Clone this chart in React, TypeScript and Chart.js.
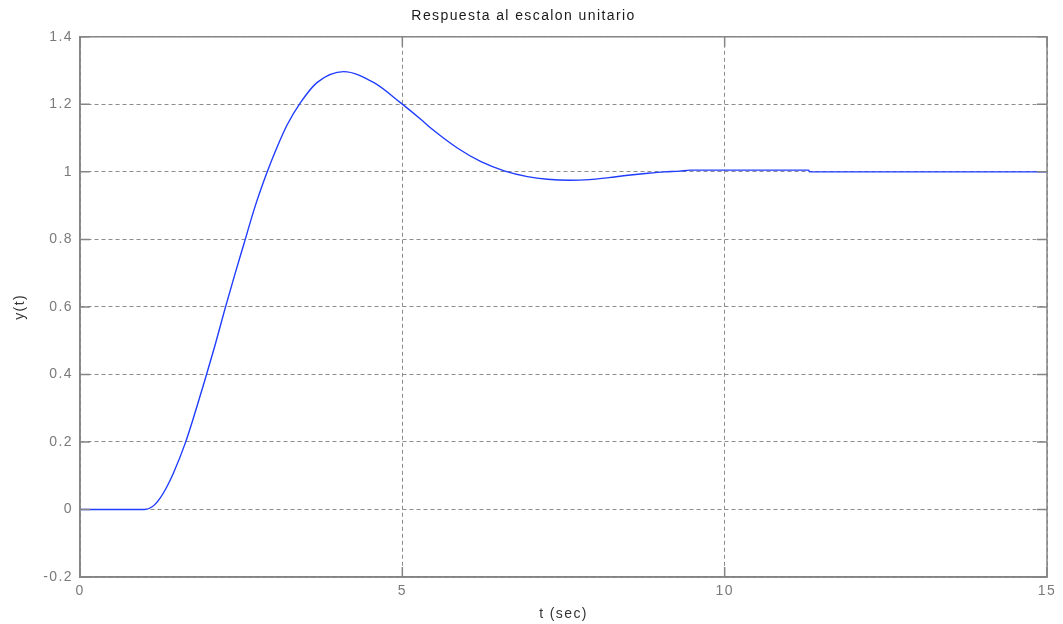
import React, { useEffect, useRef } from "react";
import { Chart, registerables } from "chart.js";

Chart.register(...registerables);

// Step response y(t)
const timeValues = [
  0, 1.0, 1.12, 1.24, 1.35, 1.45, 1.63, 1.79, 1.94, 2.1, 2.25, 2.4, 2.54, 2.72, 2.9,
  3.05, 3.21, 3.42, 3.68, 4.09, 4.56, 4.97, 5.29, 5.44, 5.86, 6.22, 6.58,
  6.94, 7.25, 7.6, 7.9, 8.2, 8.5, 8.81, 9.07, 9.3, 9.46, 11.3, 11.32, 15,
];
const responseValues = [
  0, 0, 0.008, 0.033, 0.068, 0.108, 0.195, 0.29, 0.385, 0.49, 0.595, 0.695, 0.785, 0.9, 0.998,
  1.07, 1.138, 1.205, 1.265, 1.297, 1.264, 1.205, 1.155, 1.13, 1.07, 1.03, 1.003,
  0.986, 0.978, 0.975, 0.977, 0.983, 0.99, 0.996, 1.0, 1.002, 1.005, 1.005, 1.0, 1.0,
];

const xTickValues = [0, 5, 10, 15];
const xTickLabels = ["0", "5", "10", "15"];
const yTickValues = [-0.2, 0, 0.2, 0.4, 0.6, 0.8, 1, 1.2, 1.4];
const yTickLabels = ["-0.2", "0", "0.2", "0.4", "0.6", "0.8", "1", "1.2", "1.4"];

const chartTitle = "Respuesta al escalon unitario";
const xAxisTitle = "t (sec)";
const yAxisTitle = "y(t)";

const FONT = "'Liberation Sans', Arial, sans-serif";
const GRID_GRAY = "#8c8c8c";
const FRAME_GRAY = "#858585";

const matlabAxesPlugin = {
  id: "matlabAxes",
  beforeDraw(chart: any) {
    (chart.ctx as any).letterSpacing = "1.4px";
  },
  afterDraw(chart: any) {
    const { ctx, chartArea, scales } = chart;
    const { left, right, top, bottom } = chartArea;
    ctx.save();
    ctx.strokeStyle = FRAME_GRAY;
    ctx.lineWidth = 1.5;
    ctx.setLineDash([]);
    ctx.strokeRect(left, top, right - left, bottom - top);
    const tl = 10;
    ctx.beginPath();
    xTickValues.forEach((v) => {
      const x = scales.x.getPixelForValue(v);
      ctx.moveTo(x, bottom);
      ctx.lineTo(x, bottom - tl);
      ctx.moveTo(x, top);
      ctx.lineTo(x, top + tl);
    });
    yTickValues.forEach((v) => {
      const y = scales.y.getPixelForValue(v);
      ctx.moveTo(left, y);
      ctx.lineTo(left + tl, y);
      ctx.moveTo(right, y);
      ctx.lineTo(right - tl, y);
    });
    ctx.stroke();
    ctx.restore();
  },
};

export default function App() {
  const canvasRef = useRef<HTMLCanvasElement | null>(null);

  useEffect(() => {
    document.body.style.margin = "0";
    const canvas = canvasRef.current;
    if (!canvas) return;
    const points = timeValues.map((t, i) => ({ x: t, y: responseValues[i] }));
    const chart = new Chart(canvas, {
      type: "line",
      data: {
        datasets: [
          {
            data: points,
            borderColor: "#1f3cff",
            borderWidth: 1.4,
            pointRadius: 0,
            fill: false,
            cubicInterpolationMode: "monotone",
          },
        ],
      },
      options: {
        responsive: false,
        animation: false,
        devicePixelRatio: 1,
        layout: { padding: { top: 0, right: 16, bottom: 0, left: 0 } },
        plugins: {
          legend: { display: false },
          tooltip: { enabled: false },
          title: {
            display: true,
            text: chartTitle,
            color: "#1a1a1a",
            font: { family: FONT, size: 14, weight: "normal" },
            padding: { top: 8, bottom: 12 },
          },
        },
        scales: {
          x: {
            type: "linear",
            min: 0,
            max: 15,
            afterBuildTicks: (scale: any) => {
              scale.ticks = xTickValues.map((v) => ({ value: v }));
            },
            afterFit: (scale: any) => {
              scale.height = 47;
            },
            ticks: {
              color: "#7a7a7a",
              font: { family: FONT, size: 14 },
              padding: 6,
              maxRotation: 0,
              autoSkip: false,
              callback: (v: any) => {
                const i = xTickValues.indexOf(Number(v));
                return i >= 0 ? xTickLabels[i] : "";
              },
            },
            grid: { color: GRID_GRAY, lineWidth: 1, drawTicks: false },
            border: { display: true, color: FRAME_GRAY, width: 1.5, dash: [4, 3] },
            title: {
              display: true,
              text: xAxisTitle,
              color: "#333333",
              font: { family: FONT, size: 14 },
              padding: { top: 0, bottom: 1 },
            },
          },
          y: {
            type: "linear",
            min: -0.2,
            max: 1.4,
            afterBuildTicks: (scale: any) => {
              scale.ticks = yTickValues.map((v) => ({ value: v }));
            },
            afterFit: (scale: any) => {
              scale.width = 80;
            },
            ticks: {
              color: "#7a7a7a",
              font: { family: FONT, size: 14 },
              padding: 7,
              autoSkip: false,
              callback: (v: any) => {
                const i = yTickValues.findIndex((t) => Math.abs(t - Number(v)) < 1e-6);
                return i >= 0 ? yTickLabels[i] : "";
              },
            },
            grid: { color: GRID_GRAY, lineWidth: 1, drawTicks: false },
            border: { display: true, color: FRAME_GRAY, width: 1.5, dash: [4, 3] },
            title: {
              display: true,
              text: yAxisTitle,
              color: "#333333",
              font: { family: FONT, size: 14 },
              padding: { top: 12, bottom: 0 },
            },
          },
        },
      } as any,
      plugins: [matlabAxesPlugin],
    });
    return () => chart.destroy();
  }, []);

  return (
    <div style={{ position: "absolute", left: 0, top: 0, width: 1063, height: 624, background: "#fff" }}>
      <canvas ref={canvasRef} width={1063} height={624} style={{ display: "block" }} />
    </div>
  );
}
